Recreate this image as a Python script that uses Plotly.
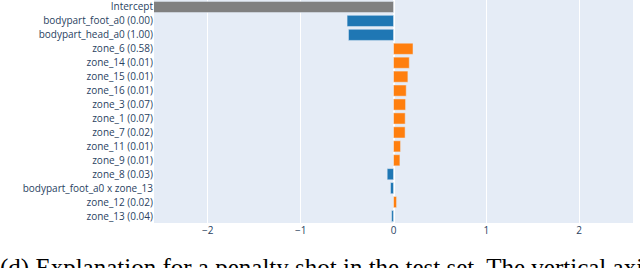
import plotly.graph_objects as go

features = [
    "Intercept",
    "bodypart_foot_a0 (0.00)",
    "bodypart_head_a0 (1.00)",
    "zone_6 (0.58)",
    "zone_14 (0.01)",
    "zone_15 (0.01)",
    "zone_16 (0.01)",
    "zone_3 (0.07)",
    "zone_1 (0.07)",
    "zone_7 (0.02)",
    "zone_11 (0.01)",
    "zone_9 (0.01)",
    "zone_8 (0.03)",
    "bodypart_foot_a0 x zone_13",
    "zone_12 (0.02)",
    "zone_13 (0.04)",
]
contributions = [-2.9, -0.50, -0.485, 0.21, 0.17, 0.155, 0.137, 0.13, 0.126, 0.125,
                 0.076, 0.069, -0.068, -0.032, 0.033, -0.02]
colors = ["#808080"] + ["#1f77b4" if v < 0 else "#ff7f0e" for v in contributions[1:]]
tick_vals = [-2, -1, 0, 1, 2]
caption = "(d) Explanation for a penalty shot in the test set. The vertical axis"

fig = go.Figure(go.Bar(
    x=contributions, y=features, orientation="h",
    marker=dict(color=colors, line=dict(color="#E5ECF6", width=0.5)),
))

W, H = 640, 268
ml, mr, mt, mb = 154, 7, 0, 45
pw = W - ml - mr
ph = H - mt - mb

fig.update_layout(
    template="plotly",
    width=W, height=H,
    margin=dict(l=ml, r=mr, t=mt, b=mb, pad=0, autoexpand=False),
    paper_bgcolor="white",
    plot_bgcolor="#E5ECF6",
    showlegend=False,
    font=dict(family="Open Sans, verdana, arial", size=10, color="#2a3f5f"),
    bargap=0.2,
    annotations=[dict(
        text=caption, xref="paper", yref="paper",
        x=-(ml + 2) / pw, y=-(252 - ph) / ph, xanchor="left", yanchor="top",
        showarrow=False,
        font=dict(family="Liberation Serif, Times New Roman, serif", size=25, color="black"),
    )],
)
fig.update_xaxes(range=[-2.58, 2.58], tickvals=tick_vals, ticktext=["\u22122", "\u22121", "0", "1", "2"],
                 gridcolor="white", zeroline=True, zerolinecolor="white", zerolinewidth=2,
                 tickfont=dict(size=10, color="#2a3f5f"))
fig.update_yaxes(autorange="reversed", showgrid=False, tickfont=dict(size=10, color="#2a3f5f"),
                 ticks="", ticklabelstandoff=0, automargin=False)

fig.write_html("out.html", config={"displayModeBar": False},
               post_script="document.body.style.margin='0';document.body.style.overflow='hidden';")
